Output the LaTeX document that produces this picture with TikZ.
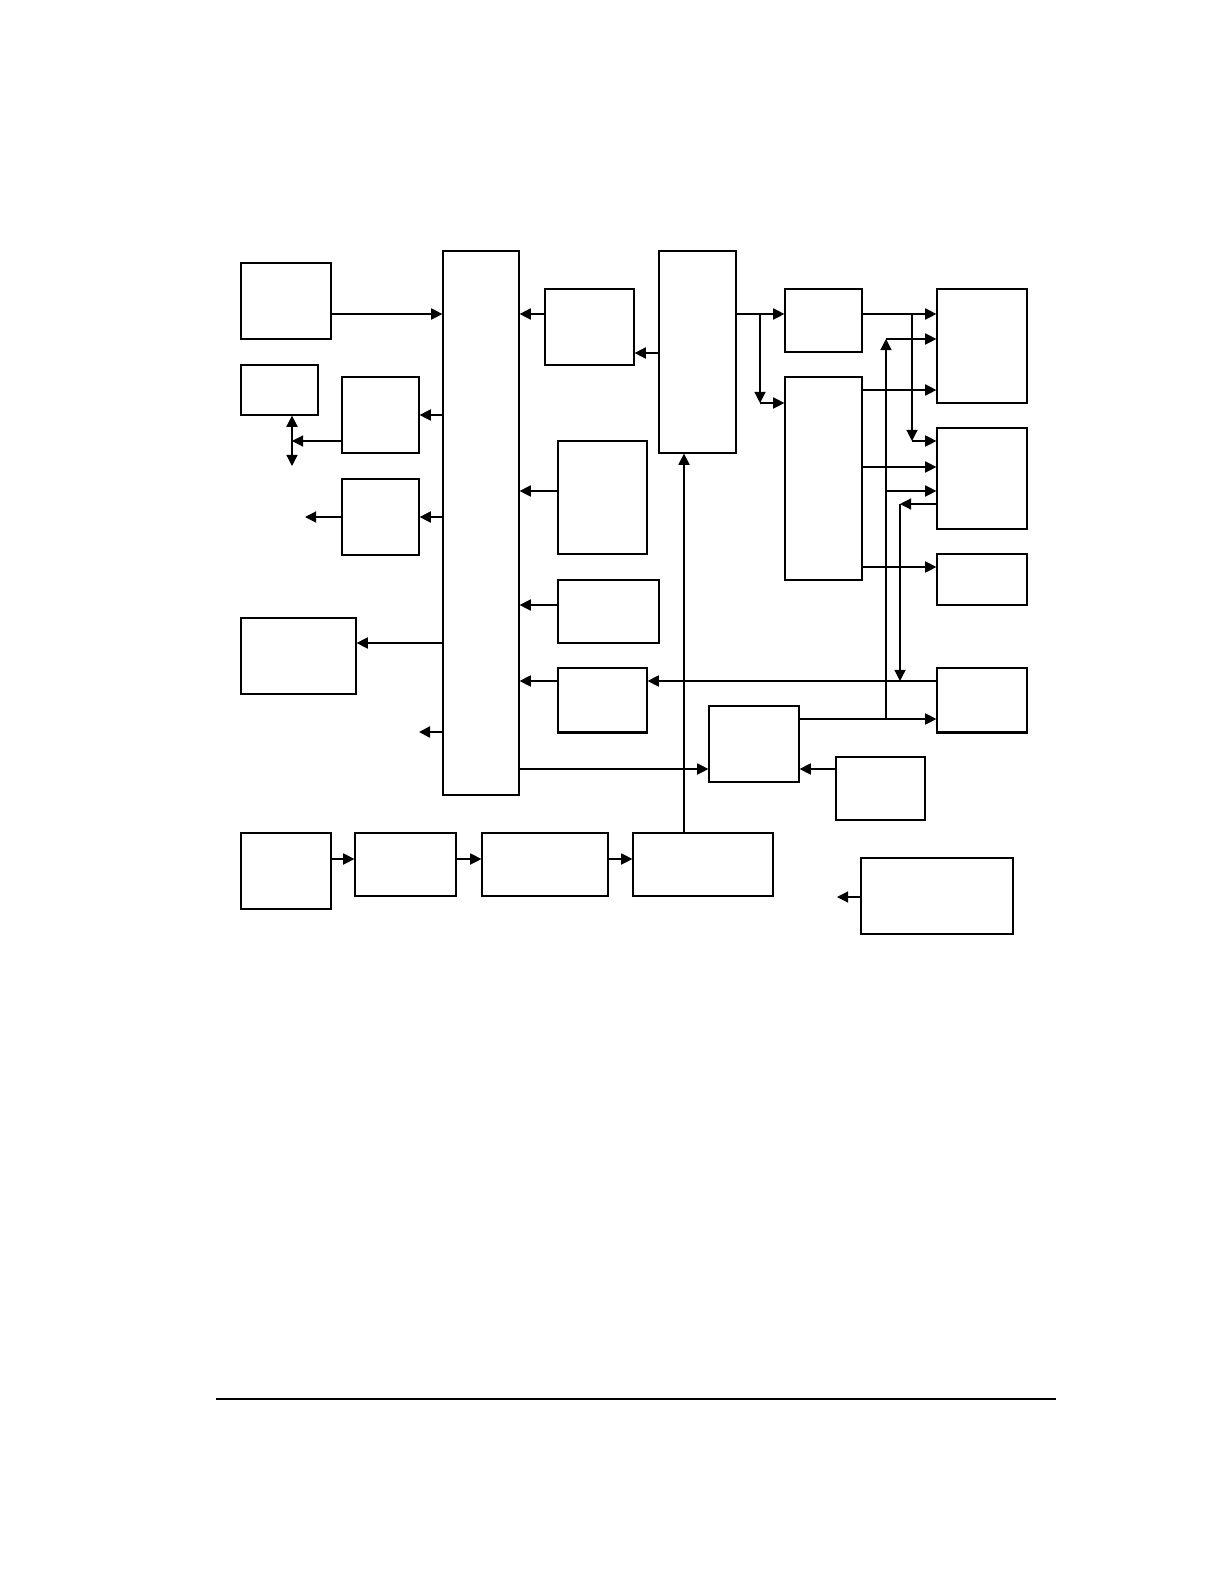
\documentclass[tikz,border=0pt]{standalone}
\usepackage{tikz}
\usetikzlibrary{arrows.meta,positioning,fit}

\begin{document}
\begin{tikzpicture}[x=0.5pt,y=-0.5pt,line width=0.6pt]
    % Define styles
    \tikzstyle{blk}=[draw, rectangle, inner sep=0pt, line width=0.6pt]
    \tikzstyle{arr}=[-{Triangle[length=5.6pt,width=5.6pt]}]
    \tikzstyle{arrb}=[{Triangle[length=5.6pt,width=5.6pt]}-{Triangle[length=5.6pt,width=5.6pt]}]

    \useasboundingbox (0,0) rectangle (1224,1584);

    % Left column
    \node[blk, fit={(241,263) (331,339)}] (src) {};
    \node[blk, fit={(241,365) (318,415)}] (io) {};
    \node[blk, fit={(342,377) (419,453)}] (drvA) {};
    \node[blk, fit={(342,479) (419,555)}] (drvB) {};
    \node[blk, fit={(241,618) (356,694)}] (disp) {};

    % Bus
    \node[blk, fit={(443,251) (519,795)}] (bus) {};

    % Middle column
    \node[blk, fit={(545,289) (634,365)}] (mem) {};
    \node[blk, fit={(659,251) (736,453)}] (ctrl) {};
    \node[blk, fit={(558,441) (647,554)}] (inB) {};
    \node[blk, fit={(558,580) (659,643)}] (inC) {};
    \node[blk, fit={(558,668) (647,732)}] (inD) {};
    \node[blk, fit={(709,706) (799,782)}] (mix) {};
    \node[blk, fit={(836,757) (925,820)}] (ref) {};

    % Right side
    \node[blk, fit={(785,289) (862,352)}] (selA) {};
    \node[blk, fit={(785,377) (862,580)}] (selB) {};
    \node[blk, fit={(937,289) (1027,403)}] (outA) {};
    \node[blk, fit={(937,428) (1027,529)}] (outB) {};
    \node[blk, fit={(937,554) (1027,605)}] (outC) {};
    \node[blk, fit={(937,668) (1027,732)}] (outD) {};

    % Bottom row
    \node[blk, fit={(241,833) (331,909)}] (stA) {};
    \node[blk, fit={(355,833) (456,896)}] (stB) {};
    \node[blk, fit={(482,833) (608,896)}] (stC) {};
    \node[blk, fit={(633,833) (773,896)}] (stD) {};
    \node[blk, fit={(861,858) (1013,934)}] (aux) {};

    % Thicker bottom edges
    \draw[line width=1.2pt] (inD.south west) -- (inD.south east);
    \draw[line width=1.2pt] (outD.south west) -- (outD.south east);

    % Free ends
    \coordinate (ioj) at (292,441);
    \coordinate (ioend) at (292,466);
    \coordinate (drvout) at (305,517);
    \coordinate (busout) at (419,732);
    \coordinate (auxout) at (837,897);
    \coordinate (splA) at (760,314);
    \coordinate (splB) at (760,403);
    \coordinate (splC) at (912,314);
    \coordinate (splD) at (912,441);
    \coordinate (upA) at (886,719);
    \coordinate (upB) at (886,339);
    \coordinate (dnA) at (900,504);
    \coordinate (dnB) at (900,681);

    % Connections into and out of the bus
    \draw[arr] (src.east |- 0,314) -- (bus.west |- 0,314);
    \draw[arr] (mem.west |- 0,314) -- (bus.east |- 0,314);
    \draw[arr] (ctrl.west |- 0,353) -- (mem.east |- 0,353);
    \draw[arr] (bus.west |- 0,415) -- (drvA.east |- 0,415);
    \draw[arr] (drvA.west |- ioj) -- (ioj);
    \draw[arrb] (io.south -| ioj) -- (ioend);
    \draw[arr] (bus.west |- drvout) -- (drvB.east |- drvout);
    \draw[arr] (drvB.west |- drvout) -- (drvout);
    \draw[arr] (inB.west |- 0,491) -- (bus.east |- 0,491);
    \draw[arr] (inC.west |- 0,605) -- (bus.east |- 0,605);
    \draw[arr] (inD.west |- dnB) -- (bus.east |- dnB);
    \draw[arr] (bus.west |- 0,643) -- (disp.east |- 0,643);
    \draw[arr, line width=1.2pt] (bus.west |- busout) -- (busout);
    \draw[arr] (bus.east |- 0,769) -- (mix.west |- 0,769);
    \draw[arr] (ref.west |- 0,769) -- (mix.east |- 0,769);
    \draw[arr] (stD.north -| 684,0) -- (ctrl.south -| 684,0);

    % Controller to selectors
    \draw[arr] (ctrl.east |- splA) -- (selA.west |- splA);
    \draw[arr] (splA) -- (splB);
    \draw[arr] (splB) -- (selB.west |- splB);

    % Selectors to outputs
    \draw[arr] (selA.east |- splC) -- (outA.west |- splC);
    \draw[arr] (splC) -- (splD);
    \draw[arr] (splD) -- (outB.west |- splD);
    \draw[arr] (selB.east |- 0,390) -- (outA.west |- 0,390);
    \draw[arr] (selB.east |- 0,467) -- (outB.west |- 0,467);
    \draw[arr] (selB.east |- 0,567) -- (outC.west |- 0,567);

    % Mixer feedback lines
    \draw[arr] (mix.east |- upA) -- (outD.west |- upA);
    \draw[arr] (upA) -- (upB);
    \draw[arr] (upB) -- (outA.west |- upB);
    \draw[arr] (upA |- 0,491) -- (outB.west |- 0,491);
    \draw[arr] (outB.west |- dnA) -- (dnA);
    \draw[arr] (dnA) -- (dnB);
    \draw[arr] (outD.west |- dnB) -- (inD.east |- dnB);

    % Bottom chain
    \draw[arr] (stA.east |- 0,859) -- (stB.west |- 0,859);
    \draw[arr] (stB.east |- 0,859) -- (stC.west |- 0,859);
    \draw[arr] (stC.east |- 0,859) -- (stD.west |- 0,859);
    \draw[arr] (aux.west |- auxout) -- (auxout);

    % Footer rule
    \draw (216,1399) -- (1056,1399);
\end{tikzpicture}
\end{document}
